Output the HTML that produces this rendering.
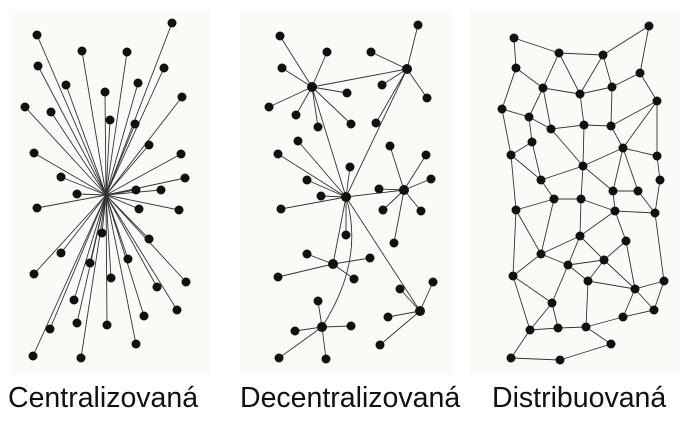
<!DOCTYPE html>
<html><head><meta charset="utf-8"><style>
html,body{margin:0;padding:0;background:#fff;width:686px;height:431px;overflow:hidden}
svg{position:absolute;left:0;top:0}
.l{position:absolute;top:382px;font-family:"Liberation Sans","DejaVu Sans",sans-serif;font-size:28.5px;color:#111;white-space:nowrap}
</style></head><body>
<svg id="s" width="686" height="431" viewBox="0 0 686 431">
<rect x="10" y="10" width="200" height="365" fill="#fafaf7"/>
<rect x="240" y="10" width="212" height="365" fill="#fafaf7"/>
<rect x="470" y="10" width="210" height="365" fill="#fafaf7"/>
<g id="e" stroke="#333" stroke-width="0.9" fill="none"></g>
<g id="n" fill="#111"></g>
</svg>
<div class="l" style="left:8px">Centralizovaná</div>
<div class="l" style="left:240px">Decentralizovaná</div>
<div class="l" style="left:492px">Distribuovaná</div>
<script>
var E=document.getElementById('e'),N=document.getElementById('n'),ns='http://www.w3.org/2000/svg';
function ln(a,b){var l=document.createElementNS(ns,'line');l.setAttribute('x1',a[0]);l.setAttribute('y1',a[1]);l.setAttribute('x2',b[0]);l.setAttribute('y2',b[1]);E.appendChild(l);}
function dot(p,r){var c=document.createElementNS(ns,'circle');c.setAttribute('cx',p[0]);c.setAttribute('cy',p[1]);c.setAttribute('r',r||4.5);N.appendChild(c);}
var C=[106,195];
var c1=[[37,35],[172,23],[82,51],[127,52],[38,66],[164,68],[66,85],[105,92],[138,83],[25,107],[51,112],[182,97],[110,120],[135,124],[149,145],[34,153],[181,154],[61,177],[185,178],[77,194],[136,190],[161,190],[37,208],[139,209],[179,210],[102,233],[149,239],[61,253],[90,263],[128,259],[34,274],[111,278],[186,282],[157,287],[74,300],[177,310],[144,316],[50,329],[77,323],[107,325],[136,344],[33,356],[81,358]];
c1.forEach(function(p){ln(C,p);dot(p);});
var A=[312,87],B=[407,69],Cc=[346,197],D=[404,190],Ee=[333,264],F=[322,327],G=[420,311];
var hubs=[[A,[[280,36],[327,52],[282,68],[347,93],[269,107],[296,115],[318,127],[351,124]]],
[B,[[418,25],[371,52],[382,85],[427,98],[376,123]]],
[Cc,[[298,141],[278,154],[350,167],[307,180],[321,196],[281,209],[346,235]]],
[D,[[390,146],[426,155],[431,179],[379,189],[383,210],[421,211],[394,243]]],
[Ee,[[307,254],[370,258],[278,277],[354,279]]],
[F,[[318,301],[351,326],[295,331],[279,358],[326,359]]],
[G,[[400,289],[433,282],[388,317],[380,345]]]];
ln(A,B);ln(B,Cc);ln(A,Cc);ln(Cc,D);ln(Cc,Ee);ln(Cc,G);
var pth=document.createElementNS(ns,'path');pth.setAttribute('d','M346,197 Q365,260 322,327');E.appendChild(pth);
hubs.forEach(function(h){h[1].forEach(function(p){ln(h[0],p);dot(p);});dot(h[0],5);});
var P=[null,[514,38],[559,53],[603,55],[649,26],[516,68],[543,88],[580,94],[612,87],[640,73],[502,109],[529,117],[551,129],[584,125],[611,126],[657,101],[532,142],[623,148],[511,155],[583,166],[657,156],[541,180],[613,191],[638,191],[660,180],[554,199],[581,199],[516,210],[615,211],[655,213],[580,236],[626,241],[541,254],[568,265],[604,260],[513,276],[588,281],[635,289],[664,281],[552,303],[654,310],[623,317],[530,330],[558,328],[586,327],[611,344],[511,358],[560,360]];
var ed=[[1,2],[1,5],[2,3],[3,4],[4,9],[2,6],[2,7],[3,7],[3,8],[5,6],[5,10],[6,7],[7,8],[8,9],[9,15],[6,11],[6,12],[10,11],[10,18],[11,12],[11,16],[12,13],[13,14],[7,13],[8,14],[14,15],[14,17],[15,17],[15,20],[17,20],[12,19],[13,19],[16,18],[16,21],[18,21],[18,27],[19,17],[19,21],[19,26],[19,22],[17,22],[17,23],[24,29],[22,23],[23,29],[22,28],[28,29],[21,25],[25,27],[25,26],[26,28],[26,30],[25,32],[27,32],[27,35],[28,31],[28,30],[30,32],[30,33],[30,34],[31,34],[31,37],[29,38],[32,33],[33,34],[33,39],[32,35],[35,39],[35,42],[33,36],[34,36],[34,37],[36,37],[36,44],[37,38],[37,40],[37,41],[38,40],[40,41],[39,42],[39,43],[42,43],[43,44],[44,41],[44,45],[42,46],[46,47],[47,45],[20,24]];
ed.forEach(function(x){ln(P[x[0]],P[x[1]]);});
for(var i=1;i<P.length;i++)dot(P[i]);
</script>
</body></html>
